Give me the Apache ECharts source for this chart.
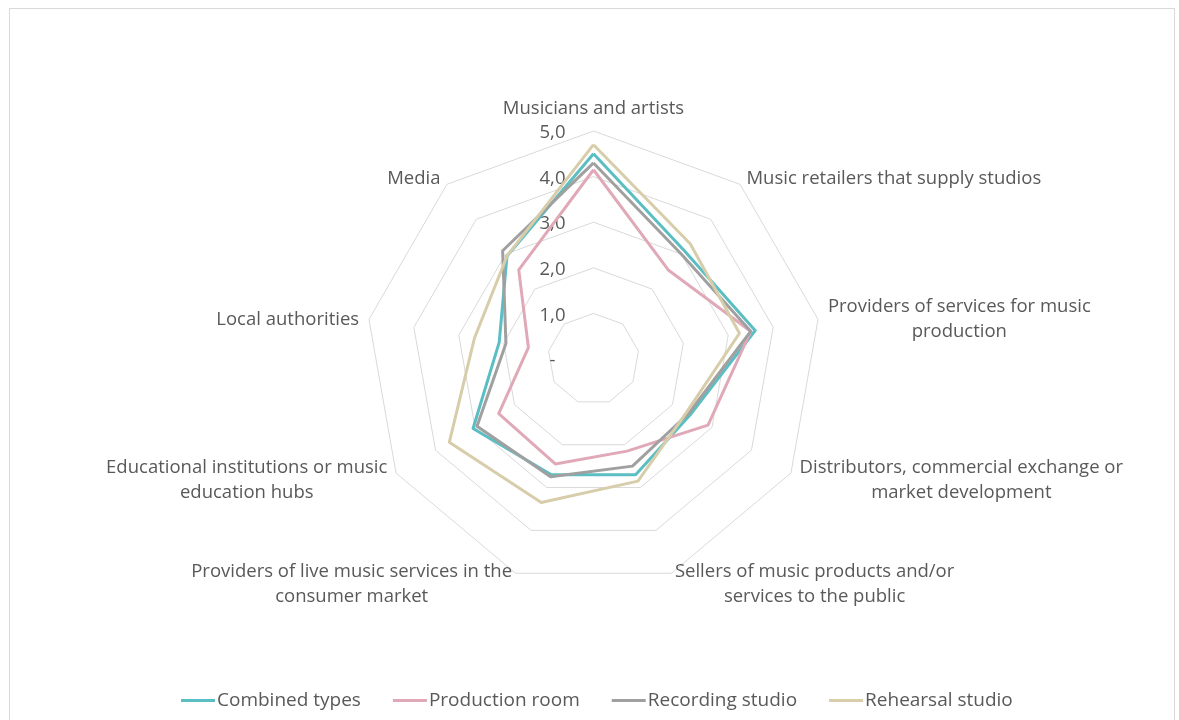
<!DOCTYPE html>
<html>
<head>
<meta charset="utf-8">
<title>Radar</title>
<script src="https://cdn.jsdelivr.net/npm/echarts@6/dist/echarts.min.js"></script>
<style>
  html, body { margin: 0; padding: 0; background: #fff; }
  #frame { position: absolute; left: 9px; top: 8px; width: 1166px; height: 740px; border: 1px solid #d9d9d9; box-sizing: border-box; }
  #chart { position: absolute; left: 0; top: 0; width: 1179px; height: 720px; }
</style>
</head>
<body>
<div id="frame"></div>
<div id="chart"></div>
<script>
// categories, clockwise from the top
const categories = [
  'Musicians and artists',
  'Music retailers that supply studios',
  'Providers of services for music production',
  'Distributors, commercial exchange or market development',
  'Sellers of music products and/or services to the public',
  'Providers of live music services in the consumer market',
  'Educational institutions or music education hubs',
  'Local authorities',
  'Media'
]
const seriesNames = ['Combined types', 'Production room', 'Recording studio', 'Rehearsal studio']
const combinedTypes = [4.5, 3.1, 3.6, 2.45, 2.7, 2.7, 3.05, 2.1, 2.95]
const productionRoom = [4.15, 2.55, 3.5, 2.9, 2.15, 2.45, 2.4, 1.45, 2.55]
const recordingStudio = [4.3, 3.0, 3.5, 2.4, 2.5, 2.75, 2.95, 1.95, 3.1]
const rehearsalStudio = [4.7, 3.3, 3.25, 2.35, 2.85, 3.35, 3.65, 2.65, 2.95]
const scaleMax = 5
const tickStep = 1

const colors = ['#5bbec2', '#e0a9b8', '#a0a0a0', '#d7cdaa']
const textColor = '#595959'
const fontFamily = '"Open Sans", Roboto, sans-serif'
const fontSize = 18.5
const cx = 593.5
const cy = 359
const radius = 228

// echarts lays radar axes out counter-clockwise, so flip the order
function ccw (arr) {
  return [arr[0]].concat(arr.slice(1).reverse())
}

function wrap (text, limit) {
  const words = text.split(' ')
  const lines = []
  let line = ''
  words.forEach(w => {
    const next = line ? line + ' ' + w : w
    if (next.length > limit && line) {
      lines.push(line)
      line = w
    } else {
      line = next
    }
  })
  if (line) lines.push(line)
  return lines
}

function tickLabel (v) {
  if (v === 0) return '-'
  return v.toFixed(1).replace('.', ',')
}

const chart = echarts.init(document.getElementById('chart'))
const allSeries = [combinedTypes, productionRoom, recordingStudio, rehearsalStudio]

const option = {
  animation: false,
  textStyle: { fontFamily: fontFamily },
  legend: {
    data: seriesNames,
    left: 176,
    top: 686,
    icon: 'rect',
    itemWidth: 34,
    itemHeight: 3,
    itemGap: 32,
    textStyle: { color: textColor, fontSize: 19, fontFamily: fontFamily, padding: [0, 0, 0, -3] }
  },
  radar: {
    center: [cx, cy],
    radius: radius,
    shape: 'polygon',
    splitNumber: 5,
    nameGap: 10,
    indicator: ccw(categories).map(name => ({ name: name, min: 0, max: scaleMax })),
    axisName: {
      color: textColor,
      fontSize: fontSize,
      fontFamily: fontFamily,
      lineHeight: 25,
      padding: [4, 0, 0, 0],
      formatter: function (name) {
        return wrap(name, 40).map(l => '{c|' + l + '}').join('\n')
      },
      rich: {
        c: { align: 'center', color: textColor, fontSize: fontSize, fontFamily: fontFamily, lineHeight: 25 }
      }
    },
    axisLine: { show: false },
    axisTick: { show: false },
    axisLabel: { show: false },
    splitArea: { show: false },
    splitLine: { lineStyle: { color: '#d9d9d9', width: 1 } }
  },
  // value scale drawn along the top axis
  grid: {
    left: cx,
    top: cy - radius + 2,
    width: 1,
    height: radius
  },
  xAxis: { type: 'value', show: false },
  yAxis: {
    type: 'value',
    min: 0,
    max: scaleMax,
    interval: tickStep,
    axisLine: { show: false },
    axisTick: { show: false },
    splitLine: { show: false },
    axisLabel: {
      color: textColor,
      fontSize: fontSize,
      fontFamily: fontFamily,
      align: 'center',
      margin: 41,
      formatter: tickLabel
    }
  },
  series: [
    {
      type: 'radar',
      symbol: 'none',
      data: allSeries.map((vals, i) => ({
        name: seriesNames[i],
        value: ccw(vals),
        lineStyle: { color: colors[i], width: 3 },
        itemStyle: { color: colors[i] }
      }))
    }
  ]
}

chart.setOption(option)
</script>
</body>
</html>
